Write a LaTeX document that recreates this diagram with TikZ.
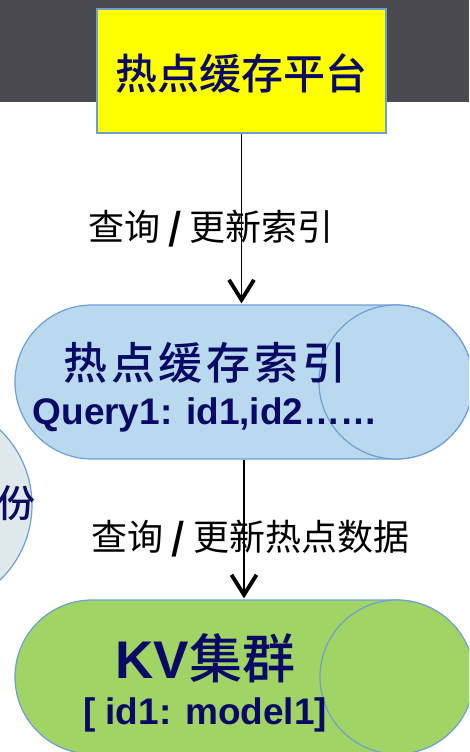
\documentclass[tikz,border=0pt]{standalone}
\usepackage{fontspec}
\setmainfont{Liberation Sans}
\newfontfamily\cjk{Noto Sans CJK SC}
\newfontfamily\cjkm{Noto Sans CJK SC Medium}
\newfontfamily\cjkls[LetterSpace=9]{Noto Sans CJK SC Medium}
\usetikzlibrary{arrows.meta}
\definecolor{band}{HTML}{4B4A50}
\definecolor{navy}{HTML}{0A0A66}
\definecolor{edgeblue}{HTML}{6E9ED6}
\definecolor{capblue}{HTML}{B9DAEE}
\definecolor{capgreen}{HTML}{A0D464}
\definecolor{sidefill}{HTML}{DDE9EA}
\definecolor{yfill}{HTML}{FFFF00}
\begin{document}
\begin{tikzpicture}[x=1pt,y=-1pt,
  capsule/.style={draw=edgeblue, line width=1.2pt, rounded corners=77pt,
    minimum width=458pt, minimum height=154pt, inner sep=0pt},
  endcap/.style={circle, draw=edgeblue, line width=1.2pt, minimum size=154pt, inner sep=0pt},
  conn/.style={draw=black, line width=1.1pt, shorten >=1pt,
    -{Straight Barb[length=20pt,width=25pt,line width=3.8pt]}},
  lbl/.style={font=\cjk\fontsize{36}{40}\selectfont, text=black, inner sep=0pt},
  navytxt/.style={text=navy, inner sep=0pt}
]
\useasboundingbox (0,0) rectangle (469,752);
\clip (0,0) rectangle (469,752);
\fill[band] (0,0) rectangle (469,102);

% side circle (partially visible)
\node[circle, draw=edgeblue, fill=sidefill, line width=1.2pt, minimum size=208pt, inner sep=0pt] (side) at (-72,505) {};
\node[navytxt, anchor=east, font=\cjkm\fontsize{38}{42}\selectfont] (sidetxt) at (36,503) {副份};

% top platform box
\node[draw=edgeblue, fill=yfill, line width=1.2pt, minimum width=289pt, minimum height=124pt, inner sep=0pt] (plat) at (241.5,71) {};
\node[navytxt, font=\cjkm\fontsize{42}{46}\selectfont] (plattxt) at (241.5,73) {热点缓存平台};

% index capsule
\node[capsule, fill=capblue] (cap1) at (244,382) {};
\node[endcap, fill=capblue] (end1) at (396,382) {};
\node[navytxt, font=\cjkls\fontsize{44}{48}\selectfont] (idxtxt) at (205,363) {热点缓存索引};
\node[navytxt, anchor=base, font=\bfseries\fontsize{37}{40}\selectfont] (qtxt) at (205,424) {Query1: id1,id2……};

% KV capsule
\node[capsule, fill=capgreen] (cap2) at (244,677) {};
\node[endcap, fill=capgreen] (end2) at (397,677) {};
\node[navytxt, font=\bfseries\fontsize{53}{56}\selectfont] (kvtxt) at (205.5,658) {KV{\cjkm\mdseries 集群}};
\node[navytxt, anchor=base, font=\bfseries\fontsize{37}{40}\selectfont] (kvsub) at (205,724) {[ id1: model1]};

% connectors
\draw[conn] (plat.south) -- (plat.south |- cap1.north);
\draw[conn] (cap1.south) -- (cap2.north);

% connector labels
\node[lbl] (lab1) at (211,229) {查询 {\bfseries /} 更新索引};
\node[lbl] (lab2) at (250.5,539) {查询 {\bfseries /} 更新热点数据};
\end{tikzpicture}
\end{document}
